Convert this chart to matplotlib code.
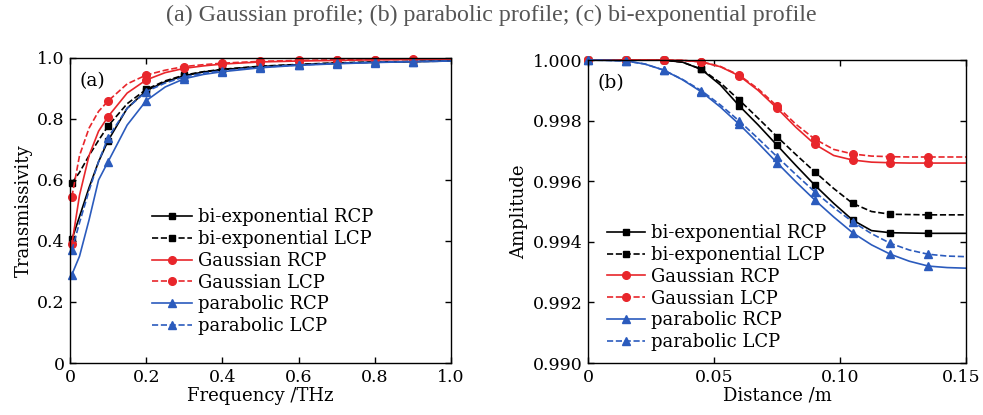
import numpy as np
import matplotlib.pyplot as plt
from matplotlib.transforms import ScaledTranslation

# (a) transmissivity vs frequency
freq = [0.005, 0.025, 0.05, 0.075, 0.1, 0.15, 0.2, 0.25, 0.3, 0.35, 0.4,
        0.5, 0.6, 0.7, 0.8, 0.9, 1.0]
freq_marks = [0, 4, 6, 8, 10, 11, 12, 13, 14, 15]
t_biexp_rcp = [0.405, 0.48, 0.575, 0.66, 0.729, 0.835, 0.893, 0.922, 0.942, 0.954,
               0.962, 0.972, 0.978, 0.983, 0.986, 0.988, 0.990]
t_biexp_lcp = [0.59, 0.625, 0.68, 0.73, 0.777, 0.85, 0.897, 0.925, 0.944, 0.955,
               0.963, 0.973, 0.979, 0.984, 0.987, 0.989, 0.991]
t_gauss_rcp = [0.39, 0.55, 0.68, 0.76, 0.808, 0.885, 0.928, 0.952, 0.966, 0.974,
               0.980, 0.987, 0.990, 0.992, 0.994, 0.995, 0.996]
t_gauss_lcp = [0.545, 0.68, 0.77, 0.825, 0.859, 0.915, 0.944, 0.960, 0.972, 0.978,
               0.983, 0.989, 0.992, 0.994, 0.995, 0.996, 0.997]
t_para_rcp = [0.29, 0.35, 0.469, 0.60, 0.66, 0.78, 0.860, 0.905, 0.932, 0.946,
              0.955, 0.968, 0.976, 0.981, 0.985, 0.988, 0.990]
t_para_lcp = [0.37, 0.46, 0.565, 0.66, 0.739, 0.835, 0.890, 0.918, 0.938, 0.950,
              0.958, 0.970, 0.977, 0.982, 0.986, 0.988, 0.990]

# (b) amplitude vs distance
dist = [0, 0.0075, 0.015, 0.0225, 0.03, 0.0375, 0.045, 0.0525, 0.06, 0.0675, 0.075,
        0.0825, 0.09, 0.0975, 0.105, 0.1125, 0.12, 0.1275, 0.135, 0.1425, 0.15]
a_biexp_rcp = [1.0, 1.0, 1.0, 1.0, 1.0, 0.99993, 0.99969, 0.99918, 0.99849, 0.99786,
               0.99719, 0.99652, 0.99587, 0.99527, 0.99472, 0.99437, 0.99430, 0.99429,
               0.99428, 0.99428, 0.99428]
a_biexp_lcp = [1.0, 1.0, 1.0, 1.0, 1.0, 0.99993, 0.99970, 0.99925, 0.99868, 0.99808,
               0.99747, 0.99688, 0.99631, 0.99576, 0.99527, 0.99500, 0.99491, 0.99490,
               0.99489, 0.99489, 0.99489]
a_gauss_rcp = [1.0, 1.0, 1.0, 1.0, 1.0, 0.99999, 0.99994, 0.99978, 0.99948, 0.99900,
               0.99841, 0.99778, 0.99722, 0.99685, 0.99670, 0.99663, 0.99661, 0.99660,
               0.99660, 0.99660, 0.99660]
a_gauss_lcp = [1.0, 1.0, 1.0, 1.0, 1.0, 0.99999, 0.99994, 0.99979, 0.99950, 0.99905,
               0.99848, 0.99788, 0.99739, 0.99705, 0.99690, 0.99683, 0.99681, 0.99680,
               0.99680, 0.99680, 0.99680]
a_para_rcp = [1.0, 0.99999, 0.99997, 0.99987, 0.99967, 0.99935, 0.99895, 0.99845, 0.99788,
              0.99726, 0.99661, 0.99598, 0.99538, 0.99482, 0.99430, 0.99390, 0.99359,
              0.99336, 0.99320, 0.99315, 0.99313]
a_para_lcp = [1.0, 0.99999, 0.99997, 0.99987, 0.99967, 0.99936, 0.99899, 0.99852, 0.99799,
              0.99741, 0.99681, 0.99622, 0.99565, 0.99513, 0.99466, 0.99427, 0.99395,
              0.99373, 0.99359, 0.99353, 0.99351]

labels = ['bi-exponential RCP', 'bi-exponential LCP', 'Gaussian RCP',
          'Gaussian LCP', 'parabolic RCP', 'parabolic LCP']
colors = ['black', 'black', '#e8262b', '#e8262b', '#2b5bbd', '#2b5bbd']
styles = ['-', '--', '-', '--', '-', '--']
markers = ['s', 's', 'o', 'o', '^', '^']
msizes = [5, 5, 5.5, 5.5, 6, 6]

plt.rcParams['font.family'] = 'DejaVu Serif'
plt.rcParams['xtick.direction'] = 'in'
plt.rcParams['ytick.direction'] = 'in'

fig = plt.figure(figsize=(9.83, 4.15), dpi=100)
ax1 = fig.add_axes([0.0712, 0.1253, 0.3876, 0.735])
ax2 = fig.add_axes([0.5982, 0.1253, 0.3845, 0.730])

fig.text(0.5, 0.963, '(a) Gaussian profile; (b) parabolic profile; (c) bi-exponential profile',
         ha='center', va='center', fontsize=17.3, color='#555555',
         family='Liberation Serif')

for i, ys in enumerate([t_biexp_rcp, t_biexp_lcp, t_gauss_rcp, t_gauss_lcp,
                        t_para_rcp, t_para_lcp]):
    ax1.plot(freq, ys, color=colors[i], ls=styles[i], lw=1.2, marker=markers[i],
             ms=msizes[i], markevery=freq_marks, label=labels[i], clip_on=False)

for i, ys in enumerate([a_biexp_rcp, a_biexp_lcp, a_gauss_rcp, a_gauss_lcp,
                        a_para_rcp, a_para_lcp]):
    ax2.plot(dist, ys, color=colors[i], ls=styles[i], lw=1.2, marker=markers[i],
             ms=msizes[i], markevery=slice(0, 20, 2), label=labels[i], clip_on=False)

ax1.set_xlim(0, 1.0)
ax1.set_ylim(0, 1.0)
ax1.set_xticks([0, 0.2, 0.4, 0.6, 0.8, 1.0])
ax1.set_xticklabels(['0', '0.2', '0.4', '0.6', '0.8', '1.0'])
ax1.set_yticks([0, 0.2, 0.4, 0.6, 0.8, 1.0])
ax1.set_yticklabels(['0', '0.2', '0.4', '0.6', '0.8', '1.0'])
ax1.set_xlabel('Frequency /THz', fontsize=13, labelpad=1)
ax1.set_ylabel('Transmissivity', fontsize=13, labelpad=3)
ax1.text(0.025, 0.925, '(a)', transform=ax1.transAxes, fontsize=13.5, va='center')
ax1.legend(loc='upper left', bbox_to_anchor=(0.196, 0.531), frameon=False, fontsize=13,
           handlelength=2.2, handletextpad=0.33, labelspacing=0.21, borderaxespad=0)

ax2.set_xlim(0, 0.15)
ax2.set_ylim(0.990, 1.000)
ax2.set_xticks([0, 0.05, 0.10, 0.15])
ax2.set_xticklabels(['0', '0.05', '0.10', '0.15'])
ax2.set_yticks([0.990, 0.992, 0.994, 0.996, 0.998, 1.000])
ax2.set_yticklabels(['0.990', '0.992', '0.994', '0.996', '0.998', '1.000'])
ax2.set_xlabel('Distance /m', fontsize=13, labelpad=1)
ax2.set_ylabel('Amplitude', fontsize=13, labelpad=3)
ax2.text(0.025, 0.925, '(b)', transform=ax2.transAxes, fontsize=13.5, va='center')
ax2.legend(loc='upper left', bbox_to_anchor=(0.030, 0.482), frameon=False, fontsize=13,
           handlelength=2.1, handletextpad=0.36, labelspacing=0.21, borderaxespad=0)

for ax in (ax1, ax2):
    ax.tick_params(labelsize=12.5, top=True, right=True, length=4, width=1, pad=4)
    for s in ax.spines.values():
        s.set_linewidth(1.0)

# keep the last distance label inside the figure
last = ax2.get_xticklabels()[-1]
last.set_transform(last.get_transform() + ScaledTranslation(-5 / 100, 0, fig.dpi_scale_trans))

fig.savefig('out.png', dpi=100)
